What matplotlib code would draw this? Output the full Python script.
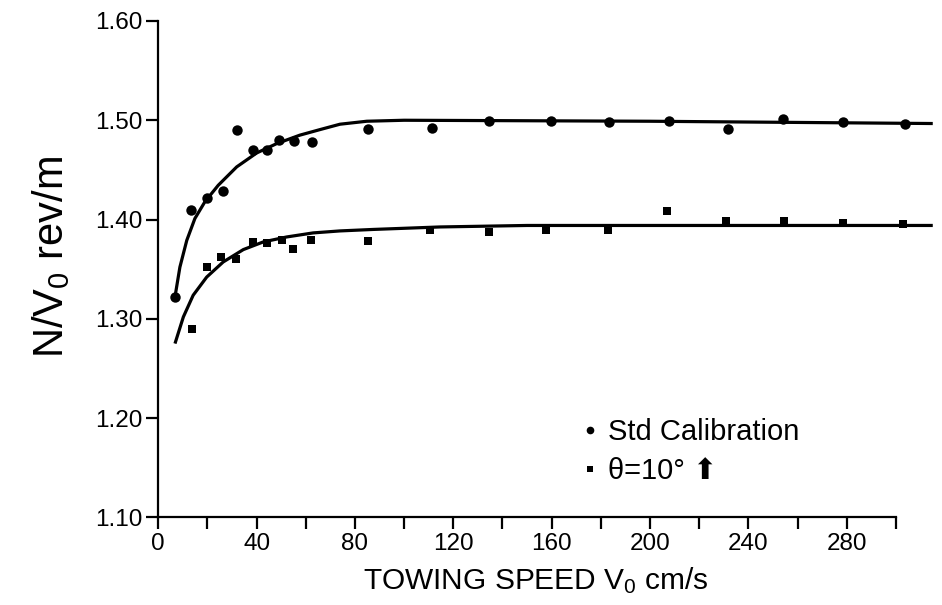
import matplotlib.pyplot as plt
import matplotlib.ticker as ticker
from matplotlib.lines import Line2D

plt.rcParams.update({
    'font.family': ['Liberation Sans', 'DejaVu Sans'],
    'mathtext.default': 'regular',
})

# measured points, std calibration (circles)
std_x = [6.8, 13.3, 19.7, 26.4, 32.1, 38.6, 44.1, 49.2, 55.2, 62.5,
         85.2, 111.4, 134.5, 159.6, 183.3, 207.8, 231.6, 254.1, 278.4, 303.6]
std_y = [1.322, 1.410, 1.422, 1.429, 1.490, 1.470, 1.470, 1.480, 1.479, 1.478,
         1.491, 1.492, 1.499, 1.499, 1.498, 1.499, 1.491, 1.501, 1.498, 1.496]

# measured points, theta = 10 deg (squares)
tilt_x = [13.6, 19.7, 25.4, 31.6, 38.4, 44.1, 50.2, 54.9, 62.0, 85.2,
          110.5, 134.5, 157.6, 183.0, 206.8, 230.8, 254.4, 278.4, 303.0]
tilt_y = [1.290, 1.352, 1.362, 1.360, 1.377, 1.376, 1.379, 1.370, 1.379, 1.378,
          1.389, 1.3875, 1.389, 1.389, 1.409, 1.3985, 1.3985, 1.3965, 1.395]

# hand-drawn fit curves
std_fit_x = [6.8, 8.8, 11.6, 14.9, 19.0, 24.4, 31.9, 40.0, 48.2, 57.6,
             65.8, 73.9, 84.8, 100, 150, 200, 250, 315]
std_fit_y = [1.322, 1.352, 1.379, 1.401, 1.418, 1.4345, 1.453, 1.467, 1.4765, 1.485,
             1.4906, 1.496, 1.499, 1.500, 1.4995, 1.499, 1.498, 1.4967]

tilt_fit_x = [6.8, 10.2, 14.2, 19.7, 26.4, 34.6, 42.7, 52.2, 63.0, 73.9,
              87.5, 114.6, 150, 200, 250, 315]
tilt_fit_y = [1.275, 1.3018, 1.3237, 1.342, 1.3572, 1.3697, 1.3774, 1.3824, 1.3865, 1.3885,
              1.390, 1.3925, 1.394, 1.394, 1.394, 1.394]

legend_labels = ['Std Calibration', 'θ=10° ⬆']

fig = plt.figure(figsize=(9.42, 6.05), dpi=100)
ax = fig.add_axes([0.168, 0.145, 0.8222, 0.8203])

ax.plot(std_fit_x, std_fit_y, color='black', lw=2.3, solid_capstyle='butt')
ax.plot(tilt_fit_x, tilt_fit_y, color='black', lw=2.3, solid_capstyle='butt')
ax.plot(std_x, std_y, 'o', color='black', ms=7.5, mew=0, clip_on=False)
ax.plot(tilt_x, tilt_y, 's', color='black', ms=6, mew=0, clip_on=False)

ax.set_xlim(0, 315)
ax.set_ylim(1.10, 1.60)

for side in ('top', 'right'):
    ax.spines[side].set_visible(False)
ax.spines['bottom'].set_bounds(0, 300)
for side in ('left', 'bottom'):
    ax.spines[side].set_linewidth(1.6)

ax.xaxis.set_major_locator(ticker.FixedLocator(range(0, 281, 40)))
ax.xaxis.set_minor_locator(ticker.FixedLocator(range(20, 301, 40)))
ax.yaxis.set_major_locator(ticker.MultipleLocator(0.1))
ax.yaxis.set_major_formatter(ticker.FormatStrFormatter('%.2f'))

ax.tick_params(axis='both', which='both', direction='out', width=1.6,
               length=8.5, pad=2.5, labelsize=17.5)

handles = [
    Line2D([], [], marker='o', ls='none', color='black', ms=5.5, mew=0),
    Line2D([], [], marker='s', ls='none', color='black', ms=5, mew=0),
]
ax.legend(handles, legend_labels, loc='center left',
          bbox_to_anchor=(0.5467, 0.1322), frameon=False, fontsize=21,
          handlelength=0.6, handletextpad=0.3, borderpad=0,
          borderaxespad=0, labelspacing=0.38)

fig.text(0.0669, 0.5744, 'N/V$_0$ rev/m', rotation=90, rotation_mode='anchor',
         ha='center', va='baseline', fontsize=30)
fig.text(0.569, 0.026, 'TOWING SPEED V$_0$ cm/s', ha='center',
         va='baseline', fontsize=21.5)

plt.savefig('out.png', dpi=100)
